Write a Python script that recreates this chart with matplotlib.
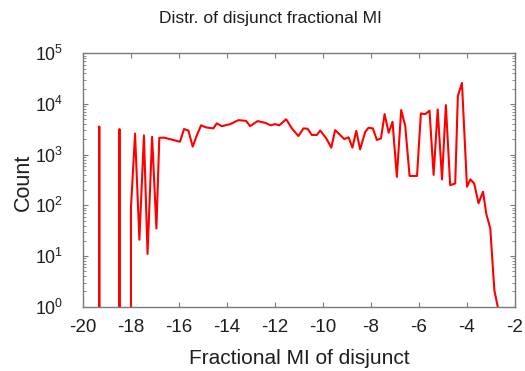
import matplotlib
matplotlib.use("Agg")
import matplotlib.pyplot as plt
from matplotlib.ticker import LogLocator, FixedLocator, NullLocator

plt.rcParams['font.family'] = ['Liberation Sans', 'DejaVu Sans']
plt.rcParams['mathtext.fontset'] = 'custom'
plt.rcParams['mathtext.rm'] = 'Liberation Sans'
plt.rcParams['mathtext.it'] = 'Liberation Sans'

# Fractional MI bin centres and counts (0 = empty bin)
mi = [-19.4, -19.31, -19.2, -18.57, -18.47, -18.37, -18.1, -17.99, -17.82, -17.64, -17.45, -17.3,
      -17.11, -16.93, -16.81, -16.61, -15.95, -15.78, -15.6, -15.42, -15.24, -15.07,
      -14.86, -14.56, -14.42, -14.21, -13.86, -13.52, -13.2, -13.03, -12.72, -12.4,
      -12.17, -11.99, -11.81, -11.53, -11.29, -11.02, -10.81, -10.64, -10.46, -10.25,
      -10.11, -9.86, -9.65, -9.49, -9.28, -9.11, -8.93, -8.77, -8.61, -8.45, -8.24,
      -8.1, -7.92, -7.75, -7.58, -7.43, -7.26, -7.1, -6.92, -6.74, -6.57, -6.39,
      -6.08, -5.92, -5.74, -5.56, -5.39, -5.22, -5.04, -4.88, -4.7, -4.49, -4.38,
      -4.21, -4.0, -3.86, -3.7, -3.52, -3.33, -3.2, -3.03, -2.86, -2.72, -2.6]
count = [0, 3600, 0, 0, 3200, 0, 0, 90, 2600, 21, 2400, 11,
         2250, 35, 2150, 2170, 1800, 3200, 3000, 1440, 2450, 3800,
         3450, 3300, 4150, 3650, 4000, 4800, 4650, 3650, 4600, 4250,
         3800, 4000, 3800, 5000, 3300, 2330, 3300, 3250, 2450, 2450,
         3000, 2100, 1380, 3050, 2450, 2030, 2200, 1380, 2950, 1270, 2800,
         3400, 3300, 1950, 2100, 6300, 2700, 4450, 365, 7600, 3650, 380,
         380, 6500, 6300, 7400, 400, 7800, 325, 9500, 250, 270, 14400,
         26000, 233, 325, 270, 110, 186, 69, 35, 2.1, 1.0, 0]

xticks = [-20, -18, -16, -14, -12, -10, -8, -6, -4, -2]
yticks = [1, 10, 100, 1000, 10000, 100000]

fig = plt.figure(figsize=(5.25, 3.71), dpi=100)
ax = fig.add_axes([0.1575, 0.1733, 0.981 - 0.1575, 0.8563 - 0.1733])

ax.plot(mi, count, color='#ff0000', lw=1.5)
ax.set_yscale('log', nonpositive='clip')
ax.set_xlim(-20, -2)
ax.set_ylim(1, 1e5)

ax.xaxis.set_major_locator(FixedLocator(xticks))
ax.xaxis.set_minor_locator(NullLocator())
ax.set_xticklabels([str(t) for t in xticks])
ax.yaxis.set_major_locator(FixedLocator(yticks))
ax.yaxis.set_minor_locator(LogLocator(base=10, subs=range(2, 10)))
ax.set_yticklabels([r'$\mathregular{10^{%d}}$' % i for i in range(6)])

gray = '#7a7a7a'
txt = '#1e1e1e'
for s in ax.spines.values():
    s.set_color(gray)
    s.set_linewidth(1.0)
ax.tick_params(which='both', direction='in', top=True, right=True, color=gray,
               labelsize=13.5, labelcolor=txt)
ax.tick_params(axis='y', labelsize=12.8)
ax.tick_params(which='major', length=3.5, width=0.8)
ax.tick_params(which='minor', length=2, width=0.6)
ax.tick_params(axis='x', which='major', pad=9)
ax.tick_params(axis='y', which='major', pad=14)

fig.text(270 / 525, 1 - 18 / 371, 'Distr. of disjunct fractional MI', fontsize=12.5,
         color=txt, ha='center', va='center')
ax.set_xlabel('Fractional MI of disjunct', fontsize=15, color=txt)
ax.xaxis.set_label_coords(0.5, -0.2025)
ax.xaxis.label.set_va('center')
ax.set_ylabel('Count', fontsize=15.5, color=txt)
ax.yaxis.set_label_coords(-0.137, 0.49)
ax.yaxis.label.set_va('center')

fig.savefig('out.png', dpi=100)
